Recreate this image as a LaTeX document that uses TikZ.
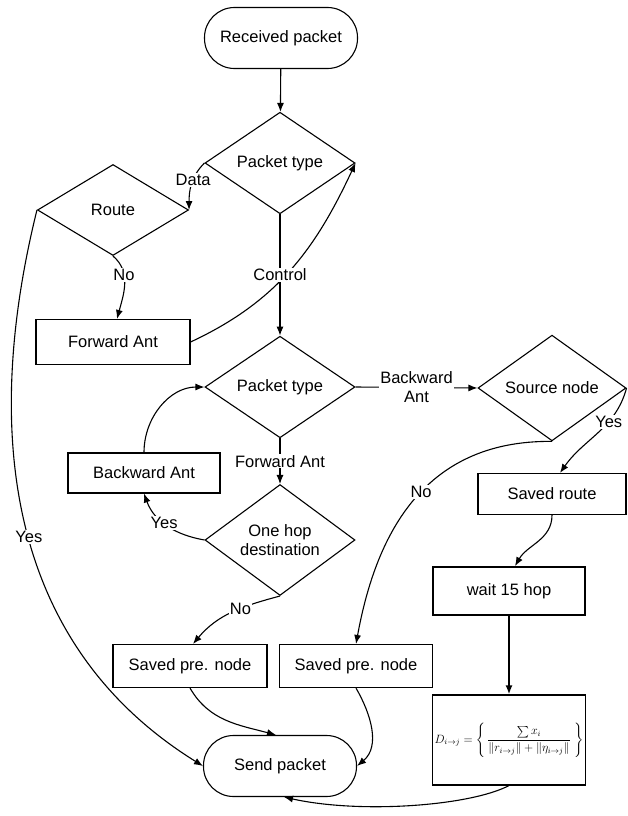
\documentclass[tikz,border=0pt]{standalone}
\usepackage{amsmath}
\usepackage{amssymb}
\usepackage{fontspec}
\setmainfont{Liberation Sans}
\usetikzlibrary{shapes.geometric,arrows.meta}

\begin{document}
\begin{tikzpicture}[x=1pt,y=-1pt,
	font=\fontsize{16.5}{19}\selectfont,
	box/.style={draw,line width=1.1pt,minimum width=153pt,minimum height=43pt,inner sep=0pt},
	decision/.style={draw,diamond,line width=1.1pt,minimum width=150pt,minimum height=89pt,inner sep=0pt,align=center},
	terminal/.style={draw,rounded corners=30pt,line width=1.1pt,minimum width=153pt,minimum height=61pt},
	lbl/.style={fill=white,inner sep=1pt,align=center},
	arr/.style={-{Latex[length=9pt,width=7pt]},line width=1.1pt}]
	\useasboundingbox (0,0) rectangle (627,816);
	% nodes
	\node[terminal] (recv) at (281,38) {Received packet};
	\node[decision] (type1) at (280,163) {Packet type};
	\node[decision,minimum width=151pt,minimum height=91pt] (route) at (113,210) {Route};
	\node[box,minimum width=154pt,minimum height=45pt] (fwd) at (113,342) {Forward Ant};
	\node[decision] (type2) at (280,387) {Packet type};
	\node[decision,minimum width=148pt,minimum height=90pt] (source) at (552,388) {Source node};
	\node[box,minimum width=152pt,minimum height=40pt] (bwd) at (144,473) {Backward Ant};
	\node[decision,minimum height=90pt] (onehop) at (280,540) {One hop\\destination};
	\node[box,minimum width=148pt,minimum height=41pt] (saved) at (552,494) {Saved route};
	\node[box,line width=1.8pt,minimum width=152pt,minimum height=48pt] (wait) at (509,591) {wait 15 hop};
	\node[box,minimum width=154pt] (pre1) at (190,666) {Saved pre. node};
	\node[box] (pre2) at (356,666) {Saved pre. node};
	\node[terminal] (send) at (280,766) {Send packet};
	\node[box,minimum height=90pt,font=\fontsize{11.5}{14}\selectfont] (dist) at (509,740)
		{$D_{i\to j}=\Bigg\{\,\dfrac{\sum x_i}{\|r_{i\to j}\|+\|\eta_{i\to j}\|}\;\Bigg\}$};
	% connectors
	\draw[arr] (recv) -- (type1);
	\draw[arr] (type1.west) to[out=225,in=90] node[lbl,pos=0.4]{Data} (route.east);
	\draw[arr] (route.south) to[out=-40,in=75] node[lbl,pos=0.35]{No} ([xshift=4pt]fwd.north);
	\draw[arr] (fwd.east) to[out=25,in=-115] (type1.east);
	\draw[arr] (type1.south) -- node[lbl]{Control} (type2.north);
	\draw[arr] (type2.east) -- node[lbl]{Backward\\Ant} (source.west);
	\draw[arr] (type2.south) -- node[lbl]{Forward Ant} (onehop.north);
	\draw[arr] (onehop.west) to[out=170,in=-70] node[lbl,pos=0.55]{Yes} (bwd.south);
	\draw[arr] (bwd.north) to[out=90,in=180] (type2.west);
	\draw[arr] (source.east) to[out=-105,in=55] node[lbl,pos=0.35]{Yes} ([xshift=8pt]saved.north);
	\draw[arr] (source.south) .. controls (420,440) and (375,540) .. node[lbl,pos=0.45]{No} (pre2.north);
	\draw[arr] (saved.south) to[out=-90,in=60] ([xshift=6pt]wait.north);
	\draw[arr,line width=1.8pt] (wait.south) -- (dist.north);
	\draw[arr] (onehop.south) to[out=195,in=50] node[lbl,pos=0.4]{No} ([xshift=3pt]pre1.north);
	\draw[arr] (route.west) .. controls (-15,420) and (0,640) .. node[lbl,pos=0.53]{Yes} (send.west);
	\draw[arr] (pre1.south) to[out=-60,in=165] ([xshift=-4pt]send.north);
	\draw[arr] (pre2.south) to[out=-60,in=40] (send.east);
	\draw[arr] (dist.south) .. controls (470,806) and (360,814) .. ([xshift=4pt]send.south);
\end{tikzpicture}
\end{document}
